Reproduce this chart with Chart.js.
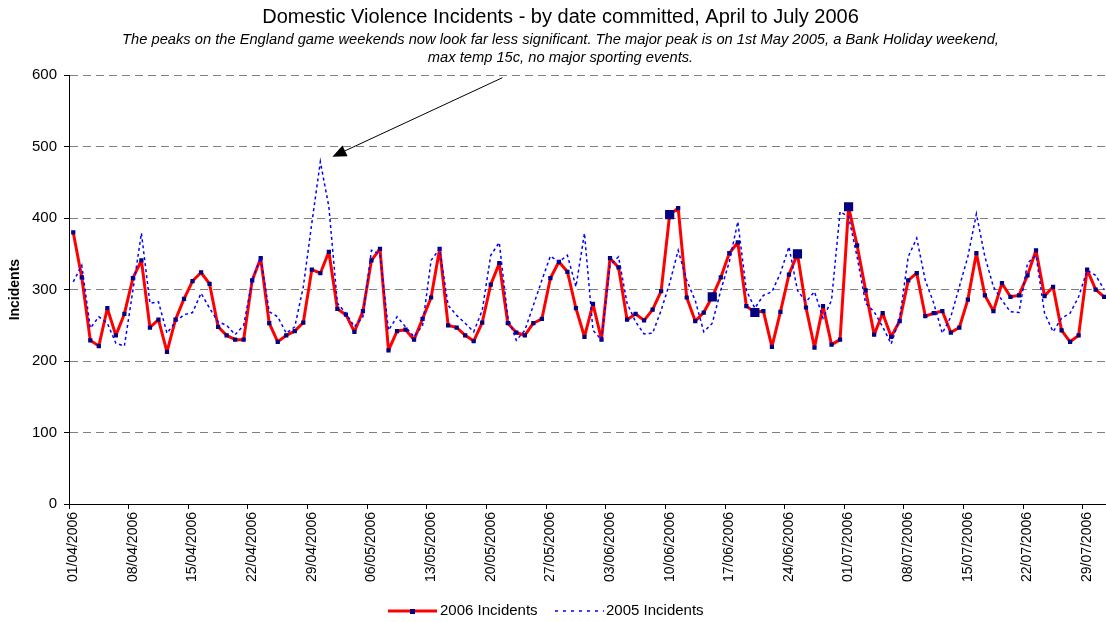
<!DOCTYPE html>
<html>
<head>
<meta charset="utf-8">
<title>Domestic Violence Incidents</title>
<script src="https://cdn.jsdelivr.net/npm/chart.js@4.4.1/dist/chart.umd.min.js"></script>
<style>
  html, body { margin: 0; padding: 0; background: #fff; overflow: hidden; }
  #wrap { width: 1124px; height: 622px; position: relative; }
</style>
</head>
<body>
<div id="wrap"><canvas id="grafico"></canvas></div>
<script>
const FONTE = 'Arial, "Liberation Sans", sans-serif';

// dias de 01/04/2006 a 31/07/2006
const dias = [];
for (let i = 0; i < 122; i++) {
  const d = new Date(2006, 3, 1 + i);
  const dd = String(d.getDate()).padStart(2, '0');
  const mm = String(d.getMonth() + 1).padStart(2, '0');
  dias.push(`${dd}/${mm}/${d.getFullYear()}`);
}

const incidents2006 = [
  380, 317, 229, 221, 274, 236, 266, 316, 341, 247,
  258, 213, 258, 287, 312, 324, 308, 248, 236, 230,
  230, 313, 344, 253, 227, 236, 242, 254, 328, 323,
  353, 273, 265, 241, 270, 341, 357, 215, 242, 244,
  230, 259, 289, 357, 250, 247, 236, 228, 254, 307,
  337, 253, 240, 236, 253, 259, 316, 339, 325, 274,
  234, 280, 230, 344, 331, 258, 266, 257, 272, 298,
  405, 414, 289, 256, 268, 290, 317, 351, 366, 277,
  268, 270, 220, 269, 321, 350, 275, 219, 277, 223,
  230, 416, 362, 299, 237, 267, 234, 256, 313, 323,
  263, 267, 270, 240, 247, 286, 351, 292, 270, 309,
  290, 292, 320, 355, 291, 304, 243, 227, 236, 328,
  300, 290
];

const incidents2005 = [
  311, 334, 246, 262, 253, 225, 221, 299, 379, 281,
  283, 239, 255, 265, 268, 295, 274, 255, 250, 237,
  250, 313, 345, 269, 262, 239, 248, 304, 393, 479,
  416, 281, 267, 248, 262, 355, 350, 243, 262, 248,
  234, 250, 341, 357, 278, 264, 253, 241, 271, 348,
  366, 262, 229, 243, 278, 313, 347, 339, 348, 304,
  379, 243, 230, 334, 346, 281, 255, 238, 239, 271,
  309, 355, 313, 285, 241, 253, 299, 339, 395, 299,
  274, 292, 297, 323, 360, 299, 283, 297, 260, 285,
  409, 402, 346, 281, 269, 248, 224, 260, 346, 372,
  313, 281, 239, 262, 304, 346, 406, 346, 304, 285,
  269, 268, 337, 348, 267, 241, 260, 267, 290, 327,
  320, 300
];

// dias de jogo da Inglaterra (marcadores grandes)
const diasJogo = ['10/06/2006', '15/06/2006', '20/06/2006', '25/06/2006', '01/07/2006'];

const yTicks = [0, 100, 200, 300, 400, 500, 600];

const titulo = 'Domestic Violence Incidents - by date committed, April to July 2006';
const subtitulo = [
  'The peaks on the England game weekends now look far less significant. The major peak is on 1st May 2005, a Bank Holiday weekend,',
  'max temp 15c, no major sporting events.'
];

// seta apontando para o pico de 2005
const setaPlugin = {
  id: 'seta',
  afterDatasetsDraw(chart) {
    const { ctx, scales } = chart;
    const iPico = incidents2005.indexOf(Math.max(...incidents2005));
    const tipX = scales.x.getPixelForValue(iPico) + 12;
    const tipY = scales.y.getPixelForValue(incidents2005[iPico]) - 5;
    const tailX = tipX + 170;
    const tailY = tipY - 79;
    const ang = Math.atan2(tipY - tailY, tipX - tailX);
    const len = 14, half = 6;
    const baseX = tipX - len * Math.cos(ang);
    const baseY = tipY - len * Math.sin(ang);
    ctx.save();
    ctx.strokeStyle = '#000';
    ctx.fillStyle = '#000';
    ctx.lineWidth = 1;
    ctx.beginPath();
    ctx.moveTo(tailX, tailY);
    ctx.lineTo(baseX, baseY);
    ctx.stroke();
    ctx.beginPath();
    ctx.moveTo(tipX, tipY);
    ctx.lineTo(baseX + half * Math.sin(ang), baseY - half * Math.cos(ang));
    ctx.lineTo(baseX - half * Math.sin(ang), baseY + half * Math.cos(ang));
    ctx.closePath();
    ctx.fill();
    ctx.restore();
  }
};

// legenda desenhada à mão (linha + marcador como no Excel)
const legendaPlugin = {
  id: 'legenda',
  afterDraw(chart) {
    const ctx = chart.ctx;
    const ds = chart.data.datasets;
    const y = 611;
    ctx.save();
    ctx.font = '15px ' + FONTE;
    ctx.textBaseline = 'middle';

    ctx.strokeStyle = ds[0].borderColor;
    ctx.lineWidth = 3;
    ctx.beginPath();
    ctx.moveTo(388, y);
    ctx.lineTo(437, y);
    ctx.stroke();
    ctx.fillStyle = '#000080';
    ctx.fillRect(410, y - 2, 5, 5);
    ctx.fillStyle = '#000';
    ctx.fillText(ds[0].label, 440, y);

    ctx.strokeStyle = ds[1].borderColor;
    ctx.lineWidth = 1.5;
    ctx.setLineDash([3, 5]);
    ctx.beginPath();
    ctx.moveTo(555, y);
    ctx.lineTo(604, y);
    ctx.stroke();
    ctx.setLineDash([]);
    ctx.fillText(ds[1].label, 606, y);
    ctx.restore();
  }
};

const ctx = document.getElementById('grafico').getContext('2d');

new Chart(ctx, {
  type: 'line',
  data: {
    labels: dias,
    datasets: [
      {
        label: '2006 Incidents',
        data: incidents2006,
        borderColor: '#ff0000',
        borderWidth: 3,
        borderJoinStyle: 'round',
        pointStyle: 'rect',
        pointBackgroundColor: '#000080',
        pointBorderColor: '#000080',
        pointBorderWidth: 0,
        pointRadius: c => diasJogo.includes(dias[c.dataIndex]) ? 6.5 : 3,
        tension: 0,
        order: 1
      },
      {
        label: '2005 Incidents',
        data: incidents2005,
        borderColor: '#0000ff',
        borderWidth: 1.5,
        borderDash: [3, 3],
        pointRadius: 0,
        tension: 0,
        order: 0
      }
    ]
  },
  options: {
    responsive: true,
    maintainAspectRatio: false,
    animation: false,
    layout: { padding: { left: 0, right: 3, top: 0, bottom: 0 } },
    plugins: {
      legend: { display: false },
      tooltip: { enabled: false },
      title: {
        display: true,
        text: titulo,
        color: '#000',
        font: { family: FONTE, size: 20, weight: 'normal' },
        padding: { top: 5, bottom: 2 }
      },
      subtitle: {
        display: true,
        text: subtitulo,
        color: '#000',
        font: { family: FONTE, size: 14.7, style: 'italic' },
        padding: { top: 0, bottom: 9 }
      }
    },
    scales: {
      x: {
        offset: true,
        grid: {
          display: true,
          drawOnChartArea: false,
          offset: true,
          tickLength: 5,
          tickWidth: 1,
          tickColor: c => c.index % 7 === 0 ? '#000' : 'rgba(0,0,0,0)'
        },
        border: { display: true, color: '#000', width: 1 },
        ticks: {
          autoSkip: false,
          minRotation: 90,
          maxRotation: 90,
          padding: 3,
          color: '#000',
          font: { family: FONTE, size: 14 },
          callback: function (val, i) {
            return i % 7 === 0 ? this.getLabelForValue(val) : '';
          }
        },
        afterFit: s => { s.height = 118; }
      },
      y: {
        min: yTicks[0],
        max: yTicks[yTicks.length - 1],
        afterBuildTicks: s => { s.ticks = yTicks.map(v => ({ value: v })); },
        ticks: {
          padding: 7,
          color: '#000',
          font: { family: FONTE, size: 15 }
        },
        grid: {
          color: c => c.tick && c.tick.value === 0 ? 'rgba(0,0,0,0)' : '#808080',
          lineWidth: 1,
          tickLength: 5,
          tickColor: '#000',
          tickBorderDash: []
        },
        border: { display: true, color: '#000', width: 1, dash: [8, 5] },
        title: {
          display: true,
          text: 'Incidents',
          color: '#000',
          font: { family: FONTE, size: 14, weight: 'bold' },
          padding: { top: 7, bottom: 0 }
        },
        afterFit: s => { s.width = 69; }
      }
    }
  },
  plugins: [setaPlugin, legendaPlugin]
});
</script>
</body>
</html>
